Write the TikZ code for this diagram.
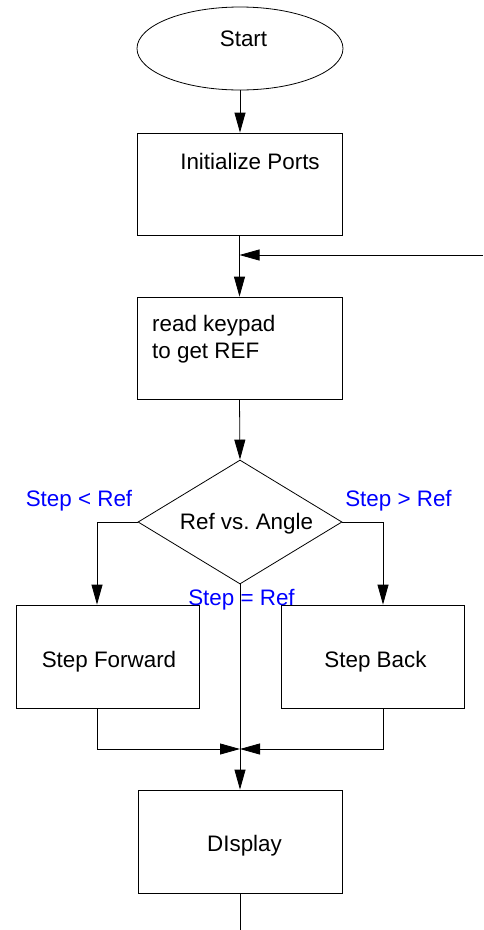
\documentclass[tikz,border=0pt]{standalone}
\usepackage{fontspec}
\setmainfont{Liberation Sans}
\usetikzlibrary{shapes.geometric,arrows.meta}
\frenchspacing
\begin{document}
\begin{tikzpicture}[x=1pt,y=-1pt,
  every node/.style={font=\fontsize{22.4}{27}\selectfont},
  shapebox/.style={draw,line width=0.8pt,rectangle,inner sep=0pt,minimum width=#1},
  lbl/.style={anchor=base,inner sep=0pt},
  cond/.style={anchor=base,inner sep=0pt,text=blue},
  conn/.style={line width=0.8pt},
  arr/.style={line width=0.8pt,-{Triangle[length=20pt,width=11pt]}}]
\useasboundingbox (0,0) rectangle (483,930);
% shapes
\node[draw,line width=0.8pt,ellipse,inner sep=0pt,minimum width=206pt,minimum height=83pt] (start) at (240,48.5) {};
\node[shapebox=205pt,minimum height=102pt] (init) at (239.5,184) {};
\node[shapebox=205pt,minimum height=102pt] (read) at (239.5,348) {};
\node[draw,line width=0.8pt,diamond,inner sep=0pt,minimum width=204pt,minimum height=124pt] (dec) at (240,522) {};
\node[shapebox=183pt,minimum height=103pt] (fwd) at (107.5,656.5) {};
\node[shapebox=183pt,minimum height=103pt] (back) at (372.5,656.5) {};
\node[shapebox=204pt,minimum height=103pt] (disp) at (240,841.5) {};
% texts
\node[lbl] (tstart) at (243.5,46) {Start};
\node[lbl] (tinit) at (250,169) {Initialize Ports};
\node[lbl,anchor=base west] (tread1) at (152,331) {read keypad};
\node[lbl,anchor=base west] (tread2) at (152,358) {to get REF};
\node[lbl] (tdec) at (246.5,529) {Ref vs.\ Angle};
\node[lbl] (tfwd) at (109,667) {Step Forward};
\node[lbl] (tback) at (375.5,667) {Step Back};
\node[lbl] (tdisp) at (244.5,851) {DIsplay};
\node[cond] (clt) at (79,506) {Step < Ref};
\node[cond] (cgt) at (398.5,506) {Step > Ref};
\node[cond] (ceq) at (241.5,605) {Step = Ref};
% coordinates
\coordinate (fb) at (483,255);
\coordinate (join) at (240,749);
\coordinate (endpt) at (240,930);
% connectors
\draw[arr] (start.south) -- (start.south |- init.north);
\draw[arr] (init.south) -- (read.north);
\draw[arr] (fb) -- (fb -| init.south);
\draw[arr] (read.south) -- (dec.north);
\draw[arr] (dec.west) -| ([xshift=-10.5pt]fwd.north);
\draw[arr] (dec.east) -| ([xshift=10.5pt]back.north);
\draw[arr] (dec.south) -- (dec.south |- disp.north);
\draw[arr] ([xshift=-10.5pt]fwd.south) |- (join);
\draw[arr] ([xshift=10.5pt]back.south) |- (join);
\draw[conn] (disp.south) -- (endpt);
\end{tikzpicture}
\end{document}
